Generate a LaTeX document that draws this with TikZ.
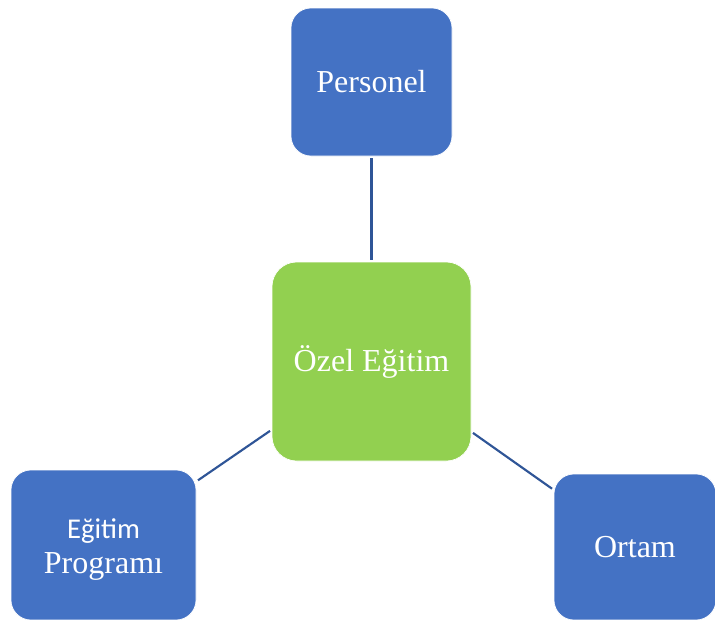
\documentclass[tikz,border=0pt]{standalone}
\usepackage{fontspec}
\setmainfont{Liberation Serif}
\newfontfamily\carlito{Carlito}
\definecolor{boxblue}{HTML}{4472C4}
\definecolor{boxgreen}{HTML}{92D050}
\definecolor{linkblue}{HTML}{2F5597}
\begin{document}
\begin{tikzpicture}[x=0.75pt,y=-0.75pt,
  box/.style={rectangle, rounded corners=15pt, draw=white, line width=0.5pt, text=white, inner sep=0pt, align=center, font=\fontsize{24}{26}\selectfont},
  boxtext/.style={text=white, inner sep=0pt, align=center, font=\fontsize{24}{26}\selectfont},
  link/.style={draw=linkblue, line width=1.6pt, shorten >=1.5pt, shorten <=1.5pt}]
\clip (0,0) rectangle (715,619);
\fill[white] (0,0) rectangle (715,619);
\node[box, fill=boxblue, minimum width=120.75pt, minimum height=111pt] (pers) at (371.5,82) {Personel};
\node[box, fill=boxgreen, rounded corners=18.5pt, minimum width=149.25pt, minimum height=149.25pt] (ozel) at (371.5,361.5) {Özel Eğitim};
\node[box, fill=boxblue, minimum width=138.75pt, minimum height=112.5pt] (egit) at (103.5,545) {};
\node[boxtext] (egittext) at ([yshift=-3.5pt]egit.center) {{\carlito\fontsize{21.5}{24}\selectfont Eğitim}\\[0pt]Programı};
\node[box, fill=boxblue, minimum width=121.5pt, minimum height=109.5pt] (ortam) at (635,547) {Ortam};
\draw[link] (pers) -- (ozel);
\draw[link] (ozel) -- (egit);
\draw[link] (ozel) -- (ortam);
\end{tikzpicture}
\end{document}
